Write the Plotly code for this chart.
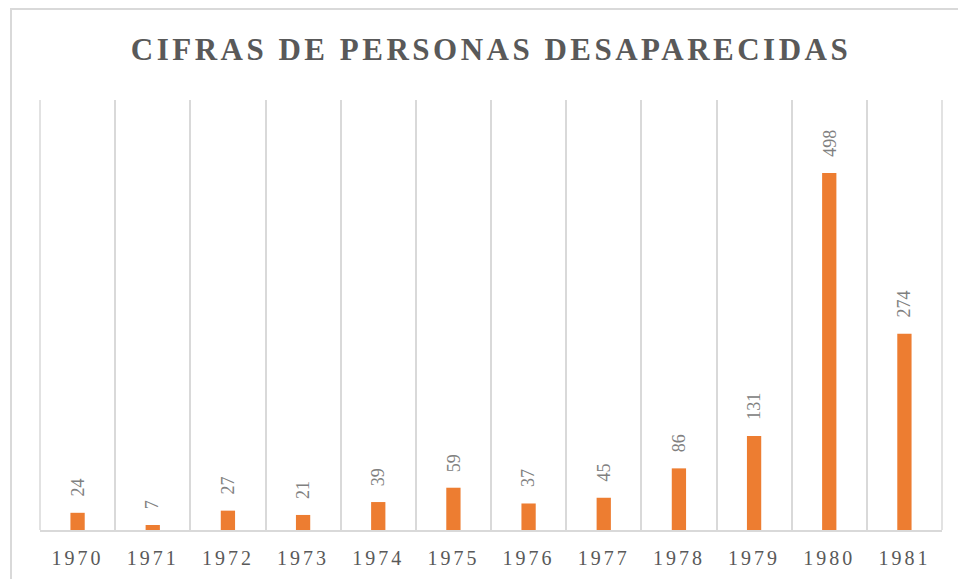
import plotly.graph_objects as go

years = ["1970", "1971", "1972", "1973", "1974", "1975", "1976", "1977", "1978", "1979", "1980", "1981"]
desaparecidos = [24, 7, 27, 21, 39, 59, 37, 45, 86, 131, 498, 274]
title_text = "CIFRAS DE PERSONAS DESAPARECIDAS"

SERIF = "Liberation Serif, Times New Roman, serif"

fig = go.Figure()
fig.add_trace(go.Bar(
    x=years, y=desaparecidos,
    marker=dict(color="#ED7D31", line=dict(width=0)),
    hoverinfo="x+y",
))

annotations = []
for i, v in enumerate(desaparecidos):
    annotations.append(dict(
        x=i, y=v, xref="x", yref="y",
        text=str(v), showarrow=False, textangle=-90,
        xanchor="center", yanchor="bottom", yshift=14,
        font=dict(family=SERIF, size=18, color="#808080"),
    ))

W, H = 958, 579
L, R, T, B = 40, 16, 100, 49
pw, ph = W - L - R, H - T - B

def px_to_paper_x(px):
    return (px - L) / pw

def px_to_paper_y(py):
    return (H - B - py) / ph

shapes = [dict(
    type="rect", xref="paper", yref="paper",
    x0=px_to_paper_x(11), x1=px_to_paper_x(962),
    y0=px_to_paper_y(590), y1=px_to_paper_y(9),
    line=dict(color="#D9D9D9", width=2),
    fillcolor="rgba(0,0,0,0)", layer="below",
)]
for xe in (0, 1):
    shapes.append(dict(
        type="line", xref="paper", yref="paper",
        x0=xe, x1=xe, y0=0, y1=1,
        line=dict(color="#D9D9D9", width=1.5), layer="below",
    ))

fig.update_layout(
    width=W, height=H,
    margin=dict(l=L, r=R, t=T, b=B, autoexpand=False),
    paper_bgcolor="white", plot_bgcolor="white",
    bargap=0.81,
    showlegend=False,
    title=dict(
        text="<b>" + title_text + "</b>",
        x=0.5, xref="paper", xanchor="center",
        y=1 - 49 / H, yref="container", yanchor="middle",
        font=dict(family=SERIF, size=31, color="#595959"),
    ),
    xaxis=dict(
        type="category",
        automargin=False,
        tickson="boundaries",
        showgrid=True, gridcolor="#D9D9D9", gridwidth=1.5,
        showline=True, linecolor="#D9D9D9", linewidth=2,
        ticks="", ticklen=0,
        ticklabelstandoff=9,
        tickfont=dict(family=SERIF, size=20, color="#595959"),
        range=[-0.5, 11.5],
    ),
    yaxis=dict(
        automargin=False,
        range=[0, 600], showgrid=False, zeroline=False,
        showticklabels=False, showline=False, ticks="",
    ),
    annotations=annotations,
    shapes=shapes,
)

post = """
document.body.style.margin='0';
var gd = document.getElementById('{plot_id}');
function spacing(){
  gd.querySelectorAll('.xtick text').forEach(function(e){ e.style.letterSpacing='3px'; });
  gd.querySelectorAll('.gtitle').forEach(function(e){ e.style.letterSpacing='3.5px'; });
}
spacing();
gd.on('plotly_afterplot', spacing);
"""

fig.write_html("out.html", post_script=post, config={"displayModeBar": False})
